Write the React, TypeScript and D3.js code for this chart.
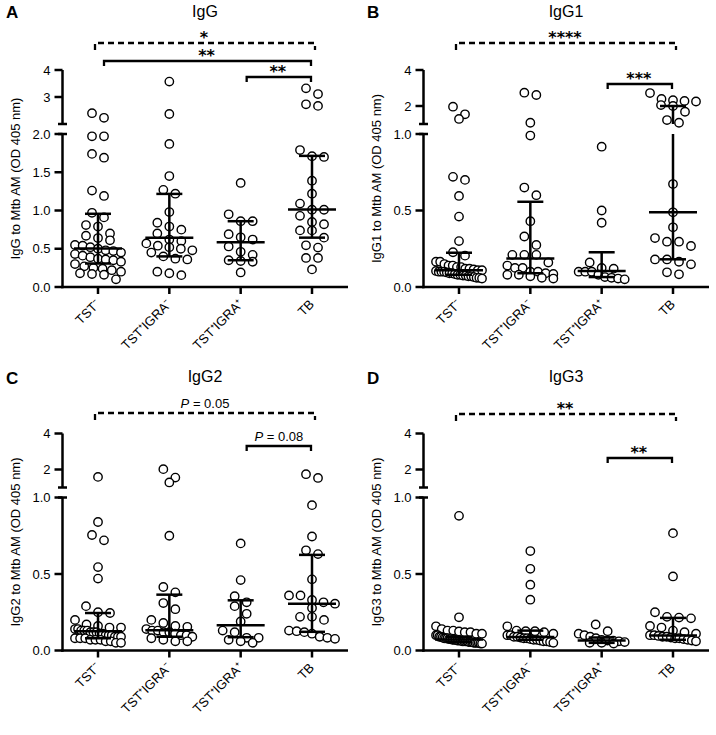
import React from "react";
import * as d3 from "d3";

const FONT = "'Liberation Sans', Arial, Helvetica, sans-serif";
const STAR_FONT = "'DejaVu Sans', 'Liberation Sans', sans-serif";

// Category labels
const categories = ["TST⁻", "TST⁺IGRA⁻", "TST⁺IGRA⁺", "TB"];

// ---------- Panel A: IgG ----------
const iggTSTneg = [2.40, 2.23, 1.97, 1.97, 1.74, 1.69, 1.26, 1.19, 0.97, 0.91, 0.81, 0.79, 0.70, 0.67, 0.64, 0.61, 0.55, 0.54, 0.52, 0.50, 0.48, 0.47, 0.45, 0.43, 0.41, 0.39, 0.37, 0.36, 0.35, 0.33, 0.30, 0.27, 0.25, 0.24, 0.22, 0.20, 0.18, 0.17, 0.16, 0.10];
const iggIGRAneg = [3.57, 2.37, 1.87, 1.45, 1.27, 1.22, 0.98, 0.84, 0.79, 0.75, 0.70, 0.62, 0.60, 0.57, 0.54, 0.52, 0.50, 0.48, 0.45, 0.40, 0.37, 0.36, 0.20, 0.18, 0.155];
const iggIGRApos = [1.36, 0.95, 0.86, 0.86, 0.69, 0.65, 0.62, 0.53, 0.46, 0.42, 0.35, 0.34, 0.33, 0.19];
const iggTB = [3.32, 3.11, 2.73, 2.67, 1.79, 1.71, 1.70, 1.39, 1.22, 1.09, 1.01, 1.01, 0.93, 0.85, 0.82, 0.74, 0.74, 0.645, 0.545, 0.515, 0.38, 0.38, 0.23];
const iggMedian = [0.502, 0.645, 0.584, 1.013];
const iggQ1 = [0.307, 0.40, 0.35, 0.645];
const iggQ3 = [0.957, 1.217, 0.86, 1.714];

// ---------- Panel B: IgG1 ----------
const igg1TSTneg = [1.96, 1.54, 1.28, 0.72, 0.70, 0.595, 0.46, 0.30, 0.227, 0.205, 0.165, 0.165, 0.15, 0.14, 0.14, 0.13, 0.13, 0.12, 0.12, 0.115, 0.11, 0.11, 0.105, 0.10, 0.10, 0.10, 0.095, 0.09, 0.09, 0.085, 0.08, 0.08, 0.075, 0.075, 0.07, 0.07, 0.065, 0.06, 0.06, 0.055];
const igg1IGRAneg = [2.74, 2.61, 1.07, 0.99, 0.65, 0.60, 0.43, 0.33, 0.275, 0.21, 0.21, 0.21, 0.16, 0.14, 0.125, 0.125, 0.10, 0.10, 0.09, 0.085, 0.08, 0.08, 0.07, 0.06, 0.055];
const igg1IGRApos = [0.917, 0.50, 0.42, 0.16, 0.125, 0.12, 0.10, 0.10, 0.10, 0.08, 0.065, 0.06, 0.055, 0.05];
const igg1TB = [2.72, 2.39, 2.32, 2.28, 2.25, 2.05, 2.0, 1.68, 1.22, 1.07, 0.673, 0.488, 0.39, 0.32, 0.296, 0.296, 0.268, 0.18, 0.18, 0.165, 0.148, 0.096, 0.083];
const igg1Median = [0.11, 0.187, 0.105, 0.488];
const igg1Q1 = [0.08, 0.09, 0.065, 0.181];
const igg1Q3 = [0.224, 0.557, 0.227, 2.0];

// ---------- Panel C: IgG2 ----------
const igg2TSTneg = [1.59, 0.84, 0.755, 0.72, 0.545, 0.47, 0.29, 0.25, 0.245, 0.20, 0.17, 0.16, 0.15, 0.15, 0.14, 0.14, 0.13, 0.13, 0.13, 0.12, 0.12, 0.12, 0.11, 0.11, 0.10, 0.10, 0.10, 0.09, 0.09, 0.09, 0.08, 0.08, 0.08, 0.07, 0.07, 0.07, 0.06, 0.06, 0.05, 0.05];
const igg2IGRAneg = [2.02, 1.55, 1.28, 0.75, 0.415, 0.38, 0.31, 0.27, 0.20, 0.18, 0.16, 0.155, 0.14, 0.13, 0.13, 0.12, 0.12, 0.11, 0.10, 0.10, 0.09, 0.08, 0.07, 0.06, 0.06];
const igg2IGRApos = [0.70, 0.46, 0.355, 0.315, 0.29, 0.24, 0.19, 0.13, 0.12, 0.083, 0.083, 0.07, 0.06, 0.05];
const igg2TB = [1.74, 1.53, 0.95, 0.745, 0.655, 0.63, 0.465, 0.36, 0.36, 0.33, 0.315, 0.306, 0.278, 0.22, 0.22, 0.20, 0.13, 0.126, 0.12, 0.11, 0.09, 0.083, 0.076];
const igg2Median = [0.126, 0.132, 0.165, 0.306];
const igg2Q1 = [0.08, 0.09, 0.087, 0.122];
const igg2Q3 = [0.245, 0.365, 0.328, 0.625];

// ---------- Panel D: IgG3 ----------
const igg3TSTneg = [0.88, 0.217, 0.158, 0.14, 0.13, 0.13, 0.125, 0.12, 0.12, 0.11, 0.11, 0.10, 0.10, 0.09, 0.09, 0.085, 0.08, 0.08, 0.08, 0.075, 0.075, 0.07, 0.07, 0.07, 0.065, 0.065, 0.065, 0.06, 0.06, 0.06, 0.06, 0.055, 0.055, 0.055, 0.05, 0.05, 0.05, 0.05, 0.045, 0.045];
const igg3IGRAneg = [0.65, 0.534, 0.43, 0.332, 0.158, 0.13, 0.126, 0.126, 0.12, 0.11, 0.10, 0.10, 0.09, 0.09, 0.085, 0.08, 0.08, 0.075, 0.07, 0.07, 0.065, 0.06, 0.06, 0.055, 0.05];
const igg3IGRApos = [0.17, 0.126, 0.11, 0.10, 0.09, 0.08, 0.07, 0.065, 0.065, 0.06, 0.055, 0.05, 0.05, 0.045];
const igg3TB = [0.767, 0.484, 0.25, 0.22, 0.215, 0.21, 0.16, 0.15, 0.13, 0.12, 0.11, 0.10, 0.10, 0.095, 0.09, 0.09, 0.085, 0.08, 0.08, 0.075, 0.07, 0.065, 0.06];
const igg3Median = [0.072, 0.089, 0.065, 0.098];
const igg3Q1 = [0.055, 0.07, 0.05, 0.07];
const igg3Q3 = [0.09, 0.13, 0.085, 0.213];

// Axis tick values
const upperTicksA = [3, 4];
const lowerTicksA = [0, 0.5, 1.0, 1.5, 2.0];
const upperTicksBCD = [2, 4];
const lowerTicksBCD = [0, 0.5, 1.0];

// ---------- layout ----------
const AXIS_X = 62.5;
const X_END = 348;
const Y_TOP = 70;
const Y_UB = 124;
const Y_LT = 134;
const Y_BOT = 287;
const CAT0 = 98;
const CAT3 = 312;
const R = 4.2;

type Bracket = { from: number; to: number; dashed: boolean; level: number; label: string };

const panels = [
  {
    letter: "A", title: "IgG", yLabel: "IgG to Mtb AM (OD 405 nm)", ox: 0, oy: 0, letterY: 17.5, titleY: 16.5,
    groups: [iggTSTneg, iggIGRAneg, iggIGRApos, iggTB], median: iggMedian, q1: iggQ1, q3: iggQ3,
    lowerMax: 2, upperTicks: upperTicksA, lowerTicks: lowerTicksA, upperFmt: d3.format("d"), lowerFmt: d3.format(".1f"),
    brackets: [
      { from: 0, to: 3, dashed: true, level: 43, label: "*" },
      { from: 0, to: 3, dashed: false, level: 61, label: "**" },
      { from: 2, to: 3, dashed: false, level: 77, label: "**" },
    ] as Bracket[],
  },
  {
    letter: "B", title: "IgG1", yLabel: "IgG1 to Mtb AM (OD 405 nm)", ox: 361, oy: 0, letterY: 17.5, titleY: 16.5,
    groups: [igg1TSTneg, igg1IGRAneg, igg1IGRApos, igg1TB], median: igg1Median, q1: igg1Q1, q3: igg1Q3,
    lowerMax: 1, upperTicks: upperTicksBCD, lowerTicks: lowerTicksBCD, upperFmt: d3.format("d"), lowerFmt: d3.format(".1f"),
    brackets: [
      { from: 0, to: 3, dashed: true, level: 43, label: "****" },
      { from: 2, to: 3, dashed: false, level: 84, label: "***" },
    ] as Bracket[],
  },
  {
    letter: "C", title: "IgG2", yLabel: "IgG2 to Mtb AM (OD 405 nm)", ox: 0, oy: 363.5, letterY: 384, titleY: 382,
    groups: [igg2TSTneg, igg2IGRAneg, igg2IGRApos, igg2TB], median: igg2Median, q1: igg2Q1, q3: igg2Q3,
    lowerMax: 1, upperTicks: upperTicksBCD, lowerTicks: lowerTicksBCD, upperFmt: d3.format("d"), lowerFmt: d3.format(".1f"),
    brackets: [
      { from: 0, to: 3, dashed: true, level: 49.5, label: "P = 0.05" },
      { from: 2, to: 3, dashed: false, level: 82.5, label: "P = 0.08" },
    ] as Bracket[],
  },
  {
    letter: "D", title: "IgG3", yLabel: "IgG3 to Mtb AM (OD 405 nm)", ox: 361, oy: 363.5, letterY: 384, titleY: 382,
    groups: [igg3TSTneg, igg3IGRAneg, igg3IGRApos, igg3TB], median: igg3Median, q1: igg3Q1, q3: igg3Q3,
    lowerMax: 1, upperTicks: upperTicksBCD, lowerTicks: lowerTicksBCD, upperFmt: d3.format("d"), lowerFmt: d3.format(".1f"),
    brackets: [
      { from: 0, to: 3, dashed: true, level: 50.5, label: "**" },
      { from: 2, to: 3, dashed: false, level: 94.5, label: "**" },
    ] as Bracket[],
  },
];

// simple row-binned scatter spread (GraphPad-like)
function swarm(values: number[], y: (v: number) => number, cx: number) {
  const ROW_H = 8.5;
  const STEP = 12;
  const MAX_W = 46;
  const pts = values.map((v) => ({ v, y: y(v) })).sort((a, b) => a.y - b.y);
  const rows: { v: number; y: number }[][] = [];
  let cur: { v: number; y: number }[] = [];
  for (const p of pts) {
    if (cur.length && p.y - cur[0].y > ROW_H) {
      rows.push(cur);
      cur = [];
    }
    cur.push(p);
  }
  if (cur.length) rows.push(cur);
  const out: { x: number; y: number }[] = [];
  for (const row of rows) {
    const n = row.length;
    const s = n > 1 ? Math.min(STEP, MAX_W / (n - 1)) : 0;
    row.forEach((p, i) => out.push({ x: cx + (i - (n - 1) / 2) * s, y: p.y }));
  }
  return out;
}

function Panel({ p }: { p: (typeof panels)[number] }) {
  const { ox, oy } = p;
  const ax = ox + AXIS_X;
  const xs = d3.scalePoint<number>().domain([0, 1, 2, 3]).range([ox + CAT0, ox + CAT3]);
  const lower = d3.scaleLinear().domain([0, p.lowerMax]).range([oy + Y_BOT, oy + Y_LT]);
  const upper = d3.scaleLinear().domain([p.lowerMax, 4]).range([oy + Y_UB, oy + Y_TOP]);
  const y = (v: number) => (v <= p.lowerMax ? lower(v) : upper(v));
  const sw = 2.5;
  const ylx = ox + 20;
  const yly = oy + (Y_TOP + Y_BOT) / 2;

  return (
    <g>
      <text x={ox + 6} y={p.letterY} fontSize={17} fontWeight="bold" fontFamily={FONT}>{p.letter}</text>
      <text x={ox + 205} y={p.titleY} fontSize={16} textAnchor="middle" fontFamily={FONT}>{p.title}</text>
      <text x={ylx} y={yly} transform={`rotate(-90, ${ylx}, ${yly})`} textAnchor="middle" fontSize={13} fontFamily={FONT}>{p.yLabel}</text>

      {/* points */}
      {p.groups.map((vals, gi) =>
        swarm(vals, y, xs(gi)!).map((pt, i) => (
          <circle key={`${gi}-${i}`} cx={pt.x} cy={pt.y} r={R} fill="#fff" stroke="#000" strokeWidth={1.4} />
        ))
      )}

      {/* median & IQR */}
      {p.median.map((m, gi) => {
        const cx = xs(gi)!;
        const q1 = p.q1[gi];
        const q3 = p.q3[gi];
        const segs: [number, number][] = [];
        if (q3 <= p.lowerMax) segs.push([y(q1), y(q3)]);
        else {
          segs.push([y(q1), lower(p.lowerMax)]);
          segs.push([upper(p.lowerMax), y(q3)]);
        }
        return (
          <g key={gi} stroke="#000" strokeWidth={sw}>
            {segs.map((s, i) => <line key={i} x1={cx} x2={cx} y1={s[0]} y2={s[1]} />)}
            <line x1={cx - 13} x2={cx + 13} y1={y(q1)} y2={y(q1)} />
            <line x1={cx - 13} x2={cx + 13} y1={y(q3)} y2={y(q3)} />
            <line x1={cx - 24} x2={cx + 24} y1={y(m)} y2={y(m)} />
          </g>
        );
      })}

      {/* axes */}
      <g stroke="#000" strokeWidth={sw} fill="none">
        <line x1={ax} x2={ax} y1={oy + Y_BOT + sw / 2} y2={oy + Y_LT} />
        <line x1={ax} x2={ax} y1={oy + Y_UB} y2={oy + Y_TOP} />
        <line x1={ax - 4.5} x2={ax + 4.5} y1={oy + Y_UB} y2={oy + Y_UB} />
        <line x1={ax - 4.5} x2={ax + 4.5} y1={oy + Y_LT} y2={oy + Y_LT} />
        <line x1={ax - sw / 2} x2={ox + X_END} y1={oy + Y_BOT} y2={oy + Y_BOT} />
        {p.lowerTicks.map((t) => <line key={"lt" + t} x1={ax - 8} x2={ax} y1={lower(t)} y2={lower(t)} />)}
        {p.upperTicks.map((t) => <line key={"ut" + t} x1={ax - 8} x2={ax} y1={upper(t)} y2={upper(t)} />)}
        {[0, 1, 2, 3].map((gi) => <line key={"xt" + gi} x1={xs(gi)} x2={xs(gi)} y1={oy + Y_BOT} y2={oy + Y_BOT + 7} />)}
      </g>
      {p.lowerTicks.map((t) => (
        <text key={"ltl" + t} x={ax - 12} y={lower(t) + 4.6} textAnchor="end" fontSize={13} fontFamily={FONT}>{p.lowerFmt(t)}</text>
      ))}
      {p.upperTicks.map((t) => (
        <text key={"utl" + t} x={ax - 12} y={upper(t) + 4.6} textAnchor="end" fontSize={13} fontFamily={FONT}>{p.upperFmt(t)}</text>
      ))}
      {categories.map((c, gi) => {
        const lx = xs(gi)! + 3;
        const ly = oy + Y_BOT + 18;
        return (
          <text key={c} x={lx} y={ly} transform={`rotate(-45, ${lx}, ${ly})`} textAnchor="end" fontSize={13} fontFamily={FONT}>{c}</text>
        );
      })}

      {/* significance brackets */}
      {p.brackets.map((b, i) => {
        const yb = oy + b.level;
        const x1 = b.dashed ? xs(b.from)! - 3 : xs(b.from)! + 6;
        const x2 = b.dashed ? xs(b.to)! + 3 : xs(b.to)! - 1;
        const tick = b.dashed ? 7 : 5;
        const isP = b.label.startsWith("P");
        const mid = (x1 + x2) / 2;
        return (
          <g key={i}>
            <path
              d={`M${x1},${yb + tick}V${yb}H${x2}V${yb + tick}`}
              fill="none" stroke="#000" strokeWidth={2.3}
              strokeDasharray={b.dashed ? "6,4" : undefined}
            />
            {isP ? (
              <text x={mid} y={yb - 5.5} textAnchor="middle" fontSize={13} fontFamily={FONT}>
                <tspan fontStyle="italic">P</tspan>
                <tspan>{b.label.slice(1)}</tspan>
              </text>
            ) : (
              <text x={mid - 1} y={yb} textAnchor="middle" fontSize={16} fontWeight="bold" fontFamily={STAR_FONT}>{b.label}</text>
            )}
          </g>
        );
      })}
    </g>
  );
}

export default function App() {
  return (
    <svg width={716} height={735} style={{ position: "absolute", left: 0, top: 0, background: "#fff" }}>
      <rect x={0} y={0} width={716} height={735} fill="#fff" />
      {panels.map((p) => <Panel key={p.letter} p={p} />)}
    </svg>
  );
}
